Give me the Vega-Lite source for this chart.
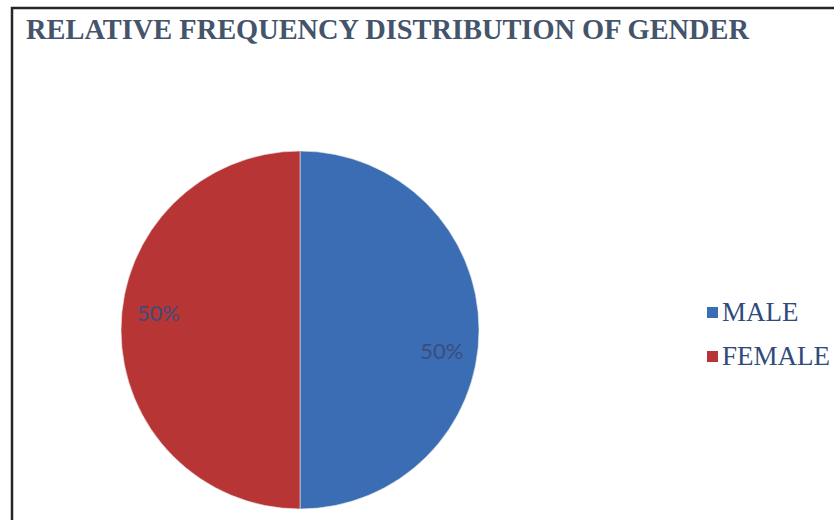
{
  "$schema": "https://vega.github.io/schema/vega-lite/v6.json",
  "width": 822,
  "height": 512,
  "autosize": {"type": "none"},
  "padding": {"left": 12, "top": 8, "right": 0, "bottom": 0},
  "background": "white",
  "view": {"stroke": "#262626", "strokeWidth": 2.5, "strokeDash": [822, 1334, 512]},
  "title": {
    "text": "RELATIVE FREQUENCY DISTRIBUTION OF GENDER",
    "anchor": "start",
    "frame": "group",
    "orient": "top",
    "offset": -33,
    "dx": 14,
    "dy": 26,
    "font": "Liberation Serif",
    "fontSize": 28.4,
    "fontWeight": "bold",
    "color": "#44546A",
    "baseline": "alphabetic"
  },
  "data": {
    "values": [
      {"gender": "MALE", "pct": 50, "rank": 1},
      {"gender": "FEMALE", "pct": 50, "rank": 2}
    ]
  },
  "layer": [
    {
      "mark": {"type": "arc", "outerRadius": 179, "x": 288, "y": 322, "stroke": "#e8e8e8", "strokeWidth": 0.6},
      "encoding": {
        "theta": {"field": "pct", "type": "quantitative", "stack": true},
        "order": {"field": "rank", "type": "quantitative"},
        "color": {
          "field": "gender",
          "type": "nominal",
          "scale": {"domain": ["MALE", "FEMALE"], "range": ["#3A6DB3", "#B73534"]},
          "legend": {
            "title": null,
            "orient": "none",
            "legendX": 687,
            "legendY": 291,
            "symbolType": "square",
            "symbolSize": 121,
            "symbolStrokeWidth": 0,
            "labelFont": "Liberation Serif",
            "labelFontSize": 27,
            "labelColor": "#2F4B7C",
            "labelOffset": -4,
            "rowPadding": 16,
            "padding": 0
          }
        }
      }
    },
    {
      "mark": {"type": "text", "radius": 143, "x": 288, "y": 325, "font": "Lato", "fontSize": 22, "color": "#3E4C7C"},
      "encoding": {
        "theta": {"field": "pct", "type": "quantitative", "stack": true, "scale": {"range": [0.13, 6.4132]}},
        "order": {"field": "rank", "type": "quantitative"},
        "text": {"value": "50%"}
      }
    }
  ],
  "resolve": {"scale": {"theta": "independent"}}
}
